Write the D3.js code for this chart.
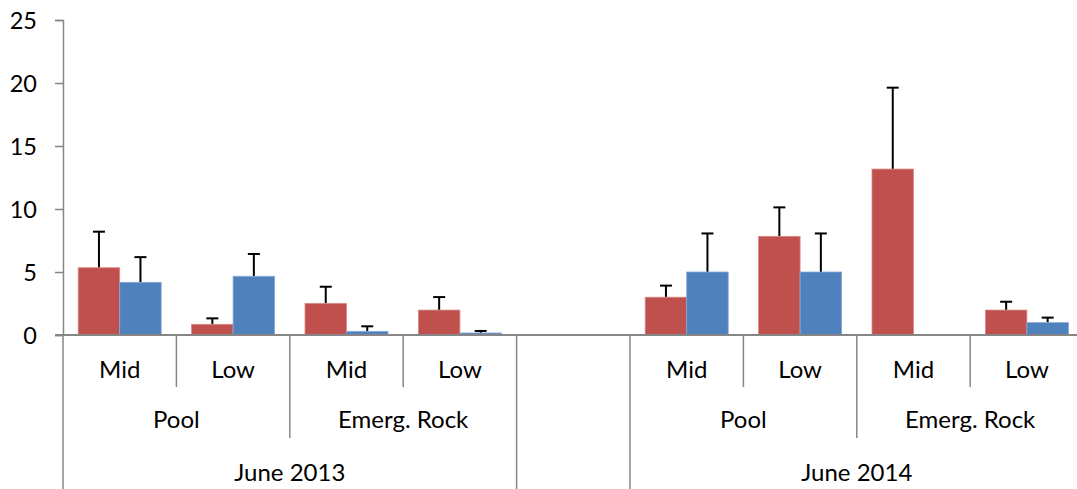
<!DOCTYPE html>
<html>
<head>
<meta charset="utf-8">
<script src="https://cdn.jsdelivr.net/npm/d3@7"></script>
<style>
  html, body { margin: 0; padding: 0; background: #fff; overflow: hidden; }
  svg { display: block; }
  text { font-family: "Lato", "Open Sans", sans-serif; fill: #000; }
</style>
</head>
<body>
<svg id="chart" width="1077" height="489"></svg>
<script>
// ---- Data ----
const slots        = ["13PM", "13PL", "13RM", "13RL", "gap", "14PM", "14PL", "14RM", "14RL"];
const zoneLabels   = ["Mid", "Low", "Mid", "Low", "", "Mid", "Low", "Mid", "Low"];
const habitatLabels = ["Pool", "Emerg. Rock", "Pool", "Emerg. Rock"];
const habitatSlots  = [["13PM", "13PL"], ["13RM", "13RL"], ["14PM", "14PL"], ["14RM", "14RL"]];
const yearLabels    = ["June 2013", "", "June 2014"];
const yearSlots     = [["13PM", "13RL"], ["gap", "gap"], ["14PM", "14RL"]];
const seriesNames   = ["red", "blue"];
const redValues     = [5.34, 0.85, 2.51, 1.98, null, 3.0, 7.83, 13.17, 1.98];
const redErrors     = [2.86, 0.47, 1.32, 1.03, null, 0.92, 2.30, 6.46, 0.66];
const blueValues    = [4.18, 4.66, 0.29, 0.16, null, 5.0, 5.0, 0, 0.98];
const blueErrors    = [2.00, 1.77, 0.40, 0.16, null, 3.06, 3.06, 0, 0.40];
const yTicks        = [0, 5, 10, 15, 20, 25];
const colors        = { red: "#C0504D", blue: "#4F81BD" };

// ---- Layout ----
const svg = d3.select("#chart");
const leftX = 63, topY = 20, baseY = 335, rightEdge = 1083.6;
const axisColor = "#868686";

const y = d3.scaleLinear().domain([0, 25]).range([baseY, topY]);
const x0 = d3.scaleBand().domain(slots).range([leftX, rightEdge]).paddingInner(0).paddingOuter(0);
const bw = x0.bandwidth();
const x1 = d3.scaleBand().domain(seriesNames).range([bw * 0.134, bw * 0.866]).padding(0);

const rows = slots.map((s, i) => ({
  slot: s,
  red: redValues[i], redErr: redErrors[i],
  blue: blueValues[i], blueErr: blueErrors[i]
}));

const g = svg.append("g");
const barData = [];
rows.forEach(r => {
  if (r.red != null && r.red > 0) barData.push({ slot: r.slot, s: "red", v: r.red, e: r.redErr });
  if (r.blue != null && r.blue > 0) barData.push({ slot: r.slot, s: "blue", v: r.blue, e: r.blueErr });
});

// Error bars
const errG = g.append("g");
barData.forEach(d => {
  const cx = x0(d.slot) + x1(d.s) + x1.bandwidth() / 2;
  const yt = y(d.v + d.e), yb = y(d.v);
  errG.append("line").attr("x1", cx).attr("x2", cx).attr("y1", yt).attr("y2", yb)
    .attr("stroke", "#000").attr("stroke-width", 2);
  errG.append("line").attr("x1", cx - 6).attr("x2", cx + 6).attr("y1", yt).attr("y2", yt)
    .attr("stroke", "#000").attr("stroke-width", 2);
});

g.append("g").selectAll("rect").data(barData).join("rect")
  .attr("x", d => x0(d.slot) + x1(d.s))
  .attr("y", d => y(d.v))
  .attr("width", x1.bandwidth())
  .attr("height", d => baseY - y(d.v))
  .attr("fill", d => colors[d.s])
  .attr("stroke", d => d.s === "red" ? "#D88A88" : "#86A8D6")
  .attr("stroke-width", 0.8);

// Y axis
const yAxis = d3.axisLeft(y).tickValues(yTicks).tickSize(8).tickPadding(18).tickFormat(d3.format("d"));
const yg = svg.append("g").attr("transform", `translate(${leftX},0)`).call(yAxis);
yg.select(".domain").attr("stroke", axisColor).attr("stroke-width", 1.5);
yg.selectAll(".tick line").attr("stroke", axisColor).attr("stroke-width", 1.5);
yg.selectAll(".tick text").style("font-size", "23.5px").attr("fill", "#000").attr("dy", "0.35em");

// X axis line
svg.append("line").attr("x1", leftX - 8).attr("x2", 1077).attr("y1", baseY).attr("y2", baseY)
  .attr("stroke", axisColor).attr("stroke-width", 1.8);

// Multi-level category labels
const lab = svg.append("g");
const fs = "24px";
const row1Y = 370, row2Y = 420, row3Y = 473;
const sep1 = 387, sep2 = 438, sep3 = 489;

slots.forEach((s, i) => {
  if (zoneLabels[i] !== "") {
    lab.append("text").attr("x", x0(s) + bw / 2).attr("y", row1Y).attr("dy", "0.35em")
      .attr("text-anchor", "middle").style("font-size", fs).text(zoneLabels[i]);
  }
});
const bounds = d3.range(slots.length + 1).map(i => i === slots.length ? rightEdge : x0(slots[i]));
const yearStarts = yearSlots.map(p => slots.indexOf(p[0])).concat(yearSlots.map(p => slots.indexOf(p[1]) + 1));
const habStarts = habitatSlots.map(p => slots.indexOf(p[0])).concat(habitatSlots.map(p => slots.indexOf(p[1]) + 1));
bounds.forEach((bx, i) => {
  let yEnd;
  if (yearStarts.includes(i)) yEnd = sep3;
  else if (habStarts.includes(i)) yEnd = sep2;
  else yEnd = sep1;
  lab.append("line").attr("x1", bx).attr("x2", bx).attr("y1", baseY).attr("y2", yEnd)
    .attr("stroke", axisColor).attr("stroke-width", 1.5);
});

habitatLabels.forEach((t, i) => {
  const a = x0(habitatSlots[i][0]), b = x0(habitatSlots[i][1]) + bw;
  lab.append("text").attr("x", (a + b) / 2).attr("y", row2Y).attr("dy", "0.35em")
    .attr("text-anchor", "middle").style("font-size", fs).text(t);
});
yearLabels.forEach((t, i) => {
  if (!t) return;
  const a = x0(yearSlots[i][0]), b = x0(yearSlots[i][1]) + bw;
  lab.append("text").attr("x", (a + b) / 2).attr("y", row3Y).attr("dy", "0.35em")
    .attr("text-anchor", "middle").style("font-size", fs).text(t);
});
</script>
</body>
</html>
